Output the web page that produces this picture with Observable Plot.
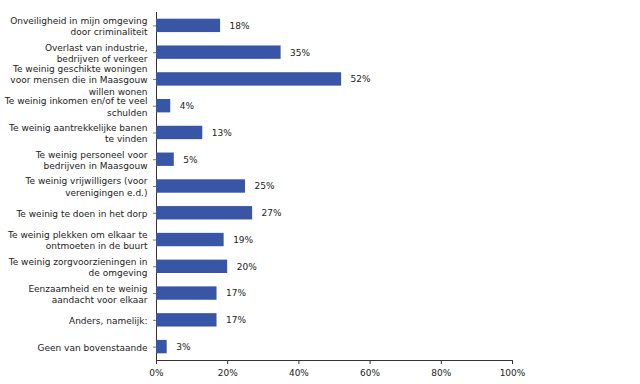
<!DOCTYPE html>
<html>
<head>
<meta charset="utf-8">
<script src="https://cdn.jsdelivr.net/npm/d3@7"></script>
<script src="https://cdn.jsdelivr.net/npm/@observablehq/plot@0.6"></script>
<style>
  html, body { margin: 0; padding: 0; background: #fff; }
</style>
</head>
<body>
<div id="chart"></div>
<script>
const categories = [
  "Onveiligheid in mijn omgeving\ndoor criminaliteit",
  "Overlast van industrie,\nbedrijven of verkeer",
  "Te weinig geschikte woningen\nvoor mensen die in Maasgouw\nwillen wonen",
  "Te weinig inkomen en/of te veel\nschulden",
  "Te weinig aantrekkelijke banen\nte vinden",
  "Te weinig personeel voor\nbedrijven in Maasgouw",
  "Te weinig vrijwilligers (voor\nverenigingen e.d.)",
  "Te weinig te doen in het dorp",
  "Te weinig plekken om elkaar te\nontmoeten in de buurt",
  "Te weinig zorgvoorzieningen in\nde omgeving",
  "Eenzaamheid en te weinig\naandacht voor elkaar",
  "Anders, namelijk:",
  "Geen van bovenstaande"
];
const values = [18, 35, 52, 4, 13, 5, 25, 27, 19, 20, 17, 17, 3];
const xTicks = [0, 20, 40, 60, 80, 100];

const data = categories.map((c, i) => ({category: c, value: values[i]}));

const chart = Plot.plot({
  width: 640,
  height: 384,
  marginLeft: 156,
  marginRight: 128,
  marginTop: 12,
  marginBottom: 24,
  style: {fontFamily: "DejaVu Sans", fontSize: "9px", color: "#222", background: "#fff"},
  x: {domain: [0, 100]},
  y: {domain: categories, paddingInner: 0.5, paddingOuter: 0.25, round: false},
  marks: [
    Plot.ruleX([0], {stroke: "#333", strokeWidth: 1}),
    Plot.frame({anchor: "bottom", stroke: "#333"}),
    Plot.barX(data, {x: "value", y: "category", fill: "#3955a5"}),
    Plot.text(data, {x: "value", y: "category", text: d => d.value + "%", textAnchor: "start", dx: 9, fill: "#222"}),
    Plot.axisY({tickSize: 3, tickPadding: 6, label: null, lineHeight: 1.28, stroke: "#777", fill: "#222"}),
    Plot.axisX({ticks: xTicks, tickFormat: d => d + "%", tickSize: 4, tickPadding: 5, label: null, stroke: "#333", fill: "#222"})
  ]
});
document.getElementById("chart").appendChild(chart);
</script>
</body>
</html>
